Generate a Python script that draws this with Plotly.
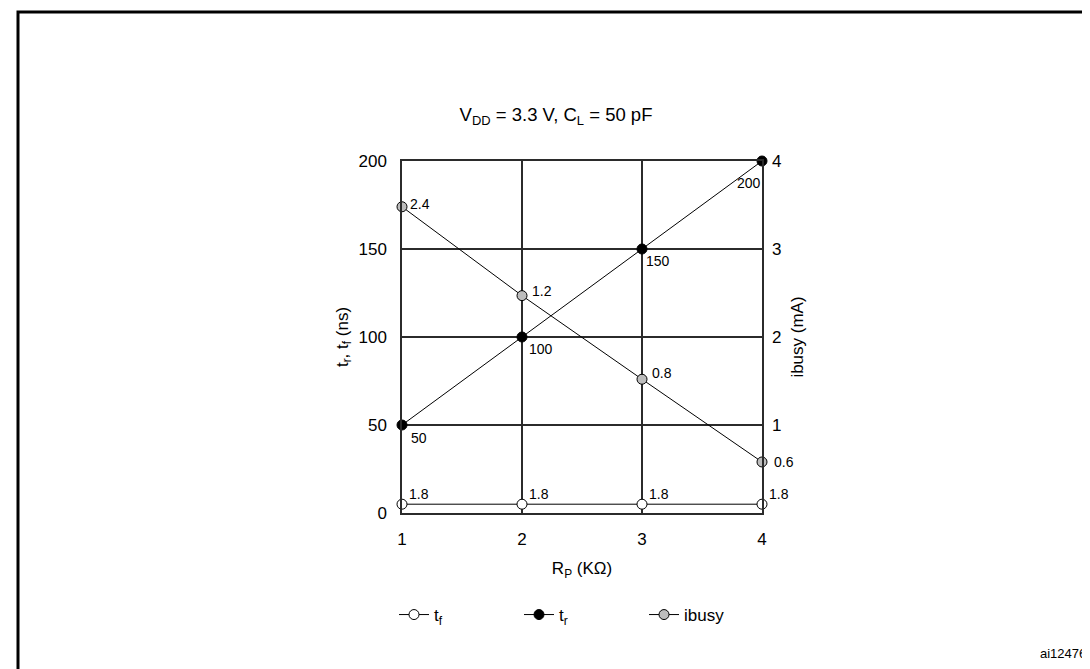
import plotly.graph_objects as go

# Data
rp_kohm = [1, 2, 3, 4]

# t_f series: label values and drawn positions (ns)
tf_labels = ["1.8", "1.8", "1.8", "1.8"]
tf_ns = [5, 5, 5, 5]

# t_r series (ns)
tr_labels = ["50", "100", "150", "200"]
tr_ns = [50, 100, 150, 200]

# ibusy series: label values and drawn positions (mA, right axis)
ibusy_labels = ["2.4", "1.2", "0.8", "0.6"]
ibusy_ma = [3.48, 2.47, 1.52, 0.58]

left_ticks = [0, 50, 100, 150, 200]
right_ticks = [1, 2, 3, 4]

FONT = "Liberation Sans, Arial, sans-serif"
LINE = "#2b2b2b"

# plot area in pixels
W, H = 1090, 669
L, R, T, B = 394, 336, 153, 164
pw, ph = W - L - R, H - T - B


def px_x(x):
    return (x - L) / pw


def px_y(y):
    return (H - B - y) / ph


fig = go.Figure()

series = [
    ("t<sub>f</sub>", tf_ns, "y", "white"),
    ("t<sub>r</sub>", tr_ns, "y", "black"),
    ("ibusy", ibusy_ma, "y2", "#bdbdbd"),
]
for name, yvals, axis, fill in series:
    fig.add_trace(go.Scatter(
        x=rp_kohm, y=yvals, name=name, yaxis=axis,
        mode="lines+markers",
        line=dict(color="black", width=1),
        marker=dict(size=10, color=fill, line=dict(color="black", width=1)),
        cliponaxis=False,
    ))

# point labels, offset next to each marker as in the reference
tf_off = [(5, 10, "left")] * 4
tr_off = [(7, -13, "left"), (5, -12, "left"), (2, -12, "left"), (1, -22, "right")]
ib_off = [(6, 3, "left"), (8, 5, "left"), (8, 6, "left"), (10, 0, "left")]
for labels, yvals, axis, offs in [
    (tf_labels, tf_ns, "y", tf_off),
    (tr_labels, tr_ns, "y", tr_off),
    (ibusy_labels, ibusy_ma, "y2", ib_off),
]:
    for xv, yv, txt, (dx, dy, anchor) in zip(rp_kohm, yvals, labels, offs):
        fig.add_annotation(
            x=xv, y=yv, xref="x", yref=axis, text=txt, showarrow=False,
            xanchor=anchor, yanchor="middle", xshift=dx, yshift=dy,
            font=dict(size=14, color="black", family=FONT),
        )

# page frame (left, top, right; open at the bottom)
fig.add_shape(
    type="path", xref="paper", yref="paper",
    path=f"M {px_x(10)} {px_y(700)} L {px_x(10)} {px_y(4)} "
         f"L {px_x(1086)} {px_y(4)} L {px_x(1086)} {px_y(700)}",
    line=dict(color="black", width=3),
)

fig.add_annotation(
    text="ai12476", xref="paper", yref="paper",
    x=px_x(1030), y=px_y(645), xanchor="left", yanchor="middle",
    showarrow=False, font=dict(size=13, color="black", family=FONT),
)

fig.update_layout(
    width=W, height=H,
    margin=dict(l=L, r=R, t=T, b=B),
    paper_bgcolor="white", plot_bgcolor="white",
    font=dict(family=FONT, size=17, color="black"),
    title=dict(
        text="V<sub>DD</sub> = 3.3 V, C<sub>L</sub> = 50 pF",
        x=px_x(575), xanchor="center",
        y=1 - 107 / H, yanchor="middle",
        font=dict(size=18.5, color="black", family=FONT),
    ),
    xaxis=dict(
        range=[1, 4], tickvals=rp_kohm,
        showgrid=True, gridcolor=LINE, gridwidth=1.5,
        showline=True, linecolor=LINE, linewidth=1.5, mirror=True,
        zeroline=False, ticks="", ticklabelstandoff=10,
        title=dict(text="R<sub>P</sub> (KΩ)", standoff=14, font=dict(size=17)),
    ),
    yaxis=dict(
        range=[0, 200], tickvals=left_ticks,
        showgrid=True, gridcolor=LINE, gridwidth=1.5,
        showline=True, linecolor=LINE, linewidth=1.5, mirror=True,
        zeroline=False, ticks="", ticklabelstandoff=10,
        title=dict(text="t<sub>r</sub>, t<sub>f</sub> (ns)", standoff=6, font=dict(size=17)),
    ),
    yaxis2=dict(
        range=[0, 4], tickvals=right_ticks, overlaying="y", side="right",
        showgrid=False, showline=False, zeroline=False, ticks="",
        ticklabelstandoff=9,
        title=dict(text="ibusy (mA)", standoff=10, font=dict(size=17)),
    ),
    legend=dict(
        orientation="h", x=px_x(386), xanchor="left",
        y=px_y(607), yanchor="middle",
        font=dict(size=17, color="black", family=FONT),
        entrywidth=80, entrywidthmode="pixels",
        bgcolor="rgba(0,0,0,0)",
    ),
)

fig.write_html("out.html")
